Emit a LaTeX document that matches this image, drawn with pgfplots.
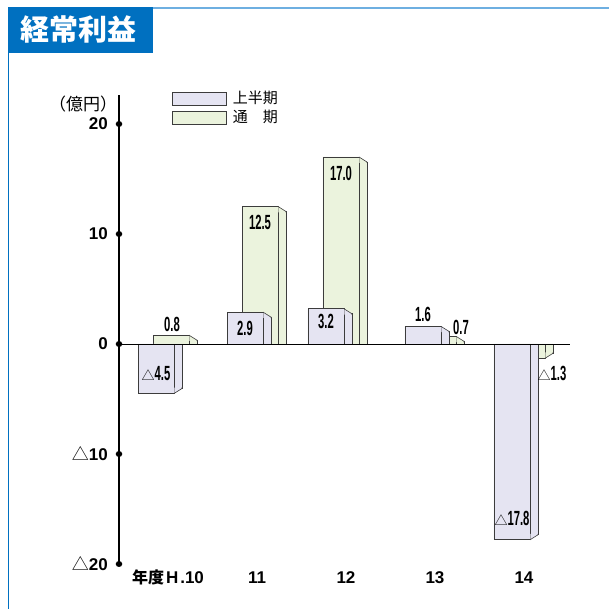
\documentclass[border=0pt]{standalone}
\usepackage{pgfplots}
\pgfplotsset{compat=1.18}
\usepackage{pgfplotstable}
\usepackage{fontspec}
\setmainfont{Liberation Sans}
\newfontfamily\cjk{Noto Sans CJK JP}
\newfontfamily\narrow[FakeStretch=0.55]{Liberation Sans}
\definecolor{lav}{RGB}{229,228,242}
\definecolor{grn}{RGB}{235,243,221}
\definecolor{edge}{RGB}{60,60,60}
\definecolor{titleblue}{RGB}{0,112,192}
\definecolor{lineblue}{RGB}{110,175,225}

\pgfplotstableread{
x half full
0 -4.5 0.8
1 2.9 12.5
1.91 3.2 17.0
3 1.6 0.7
4 -17.8 -1.3
}\data

\pgfdeclareplotmark{sidetop}{%
  \pgfpathmoveto{\pgfqpoint{0.35pt}{0pt}}%
  \pgfpathlineto{\pgfqpoint{8pt}{-5pt}}%
  \pgfpathlineto{\pgfqpoint{8pt}{-5.8pt}}%
  \pgfpathlineto{\pgfqpoint{0.35pt}{-5.8pt}}%
  \pgfpathclose\pgfusepathqfill
  \pgfpathmoveto{\pgfqpoint{0pt}{0pt}}%
  \pgfpathlineto{\pgfqpoint{8pt}{-5pt}}%
  \pgfpathlineto{\pgfqpoint{8pt}{-6pt}}%
  \pgfusepathqstroke}
\pgfdeclareplotmark{sidebot}{%
  \pgfpathmoveto{\pgfqpoint{0.35pt}{0pt}}%
  \pgfpathlineto{\pgfqpoint{8pt}{5pt}}%
  \pgfpathlineto{\pgfqpoint{8pt}{5.8pt}}%
  \pgfpathlineto{\pgfqpoint{0.35pt}{5.8pt}}%
  \pgfpathclose\pgfusepathqfill
  \pgfpathmoveto{\pgfqpoint{0pt}{0pt}}%
  \pgfpathlineto{\pgfqpoint{8pt}{5pt}}%
  \pgfpathlineto{\pgfqpoint{8pt}{6pt}}%
  \pgfusepathqstroke}

\tikzset{vl/.style={font=\narrow\bfseries\fontsize{20.5}{20.5}\selectfont, inner sep=0pt, anchor=center}}
\newcommand{\tri}{{\cjk\mdseries\fontsize{13}{13}\selectfont △}}

\begin{document}
\begin{tikzpicture}
\useasboundingbox (0pt,0pt) rectangle (609pt,609pt);
\fill[white] (0pt,0pt) rectangle (609pt,609pt);
\draw[lineblue, line width=2pt] (8pt,601pt) -- (609pt,601pt);
\draw[titleblue, line width=1.3pt] (8.6pt,601pt) -- (8.6pt,0pt);
\fill[titleblue] (8pt,556pt) rectangle (153pt,602pt);
\node[white, inner sep=0pt, font=\cjk\bfseries\fontsize{29}{29}\selectfont] at (78pt,580pt) {経常利益};
\node[inner sep=0pt, font=\cjk\fontsize{17}{17}\selectfont] at (83pt,505pt) {（億円）};

\begin{axis}[
  at={(119pt,45pt)}, anchor=south west,
  scale only axis, width=451pt, height=469pt,
  xmin=-0.5506, xmax=4.517, ymin=-20, ymax=22.636,
  axis y line=left, axis x line=bottom,
  axis line style={-},
  x axis line style={draw=none, -},
  y axis line style={-, line width=1.1pt, black},
  xtick={0,1,2,3,4},
  xticklabels={{{\cjk\bfseries\fontsize{16}{16}\selectfont 年度}\hspace{2pt}H\hspace{2pt}.10},11,12,13,14},
  xtick style={draw=none},
  ytick={-20,-10,0,10,20},
  yticklabels={{{\cjk\mdseries △}20},{{\cjk\mdseries △}10},0,10,20},
  ytick style={line width=6.5pt, line cap=round, black},
  major tick length=0.01pt,
  tick label style={font=\fontsize{17}{17}\selectfont\bfseries, inner sep=0pt},
  xticklabel style={anchor=base, yshift=-19pt},
  yticklabel style={anchor=east, xshift=-11pt},
  clip=false,
  legend image code/.code={\draw[#1] (0pt,-6.5pt) rectangle (54pt,6.5pt);},
  legend style={draw=none, fill=none, inner sep=0pt, anchor=north west,
    at={(0.11752,1.0064)}, row sep=5.5pt, column sep=6pt,
    font=\cjk\fontsize{15}{15}\selectfont,
    nodes={inner sep=0pt, text height=11pt, text depth=2pt}},
  legend cell align=left,
]
\addlegendimage{fill=lav, draw=edge, line width=0.6pt}
\addlegendentry{上半期}
\addlegendimage{fill=grn, draw=edge, line width=0.6pt}
\addlegendentry{通　期}

% green (通期) side faces
\addplot[ybar, bar width=8pt, bar shift=25pt, fill=grn, draw=edge, line width=0.6pt, forget plot]
  table[x=x, y expr={\thisrow{full}>0 ? \thisrow{full}-5/11 : \thisrow{full}+5/11}]{\data};
\addplot[only marks, mark=sidetop, mark options={xshift=21pt, fill=grn, draw=edge, line width=0.6pt}, restrict y to domain=0:40, forget plot]
  table[x=x, y=full]{\data};
\addplot[only marks, mark=sidebot, mark options={xshift=21pt, fill=grn, draw=edge, line width=0.6pt}, restrict y to domain=-40:0, forget plot]
  table[x=x, y=full]{\data};
% green front
\addplot[ybar, bar width=36pt, bar shift=3pt, fill=grn, draw=edge, line width=0.6pt, forget plot]
  table[x=x, y=full]{\data};

% lavender (上半期) side faces
\addplot[ybar, bar width=8pt, bar shift=10pt, fill=lav, draw=edge, line width=0.6pt, forget plot]
  table[x=x, y expr={\thisrow{half}>0 ? \thisrow{half}-5/11 : \thisrow{half}+5/11}]{\data};
\addplot[only marks, mark=sidetop, mark options={xshift=6pt, fill=lav, draw=edge, line width=0.6pt}, restrict y to domain=0:40, forget plot]
  table[x=x, y=half]{\data};
\addplot[only marks, mark=sidebot, mark options={xshift=6pt, fill=lav, draw=edge, line width=0.6pt}, restrict y to domain=-40:0, forget plot]
  table[x=x, y=half]{\data};
% lavender front
\addplot[ybar, bar width=36pt, bar shift=-12pt, fill=lav, draw=edge, line width=0.6pt, forget plot]
  table[x=x, y=half]{\data};

\draw[black, line width=0.9pt] (axis cs:-0.5506,0) -- (axis cs:4.517,0);

\node[vl, xshift=-12pt, yshift=20pt] at (axis cs:0,-4.5) {\tri4.5};
\node[vl, xshift=4pt, yshift=10.5pt] at (axis cs:0,0.8) {0.8};
\node[vl, xshift=-12pt] at (axis cs:1,1.45) {2.9};
\node[vl, xshift=3pt, yshift=-16pt] at (axis cs:1,12.5) {12.5};
\node[vl, xshift=-12pt, yshift=-13pt] at (axis cs:1.91,3.2) {3.2};
\node[vl, xshift=3pt, yshift=-16.5pt] at (axis cs:1.91,17.0) {17.0};
\node[vl, xshift=-12pt, yshift=11.5pt] at (axis cs:3,1.6) {1.6};
\node[vl, xshift=26pt, yshift=9pt] at (axis cs:3,0.7) {0.7};
\node[vl, xshift=-12pt, yshift=21pt] at (axis cs:4,-17.8) {\tri17.8};
\node[vl, xshift=28pt, yshift=-15.5pt] at (axis cs:4,-1.3) {\tri1.3};
\end{axis}
\end{tikzpicture}
\end{document}
